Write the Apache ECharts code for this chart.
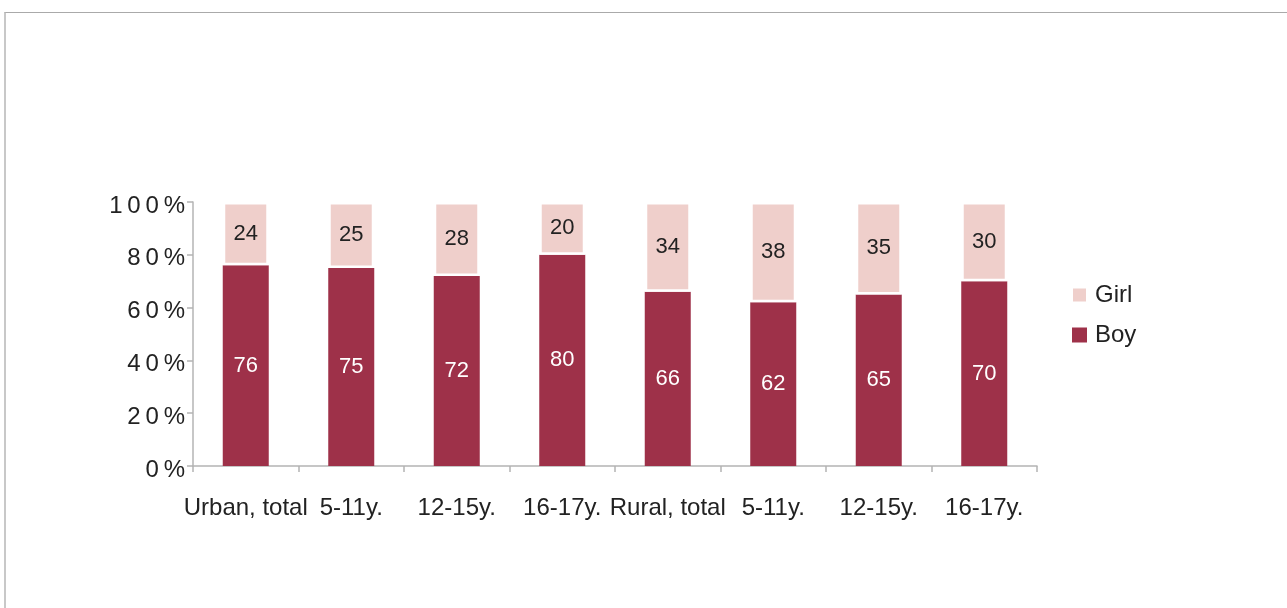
<!DOCTYPE html>
<html>
<head>
<meta charset="utf-8">
<script src="https://cdn.jsdelivr.net/npm/echarts@6/dist/echarts.min.js"></script>
<style>
  html, body { margin: 0; padding: 0; background: #fff; }
  .frame {
    position: absolute; left: 4px; top: 12px; width: 1300px; height: 620px;
    border-top: 1px solid #aaa; border-left: 2px solid #c8c8c8;
  }
  #chart { position: absolute; left: 0; top: 0; width: 1287px; height: 608px; }
</style>
</head>
<body>
<div class="frame"></div>
<div id="chart"></div>
<script>
const categories = ['Urban, total', '5-11y.', '12-15y.', '16-17y.', 'Rural, total', '5-11y.', '12-15y.', '16-17y.']
const boyValues = [76, 75, 72, 80, 66, 62, 65, 70]
const girlValues = [24, 25, 28, 20, 34, 38, 35, 30]
const yTicks = [0, 20, 40, 60, 80, 100]

const chart = echarts.init(document.getElementById('chart'))
const font = '"Liberation Sans", Arial, sans-serif'

chart.setOption({
  animation: false,
  textStyle: { fontFamily: font },
  grid: { left: 193, right: 250, top: 202, bottom: 142 },
  legend: {
    orient: 'vertical',
    left: 1066,
    top: 278,
    itemWidth: 15,
    itemHeight: 15,
    itemGap: 16,
    icon: 'rect',
    textStyle: { fontSize: 24, color: '#222', fontFamily: font, padding: [0, 0, 0, 3] },
    data: ['Girl', 'Boy']
  },
  xAxis: {
    type: 'category',
    data: categories,
    axisLine: { lineStyle: { color: '#b4b4b4', width: 1.5 } },
    axisTick: { show: true, length: 6, lineStyle: { color: '#b4b4b4', width: 1.5 } },
    axisLabel: { color: '#222', fontSize: 24, margin: 30, interval: 0 }
  },
  yAxis: {
    type: 'value',
    min: yTicks[0],
    max: yTicks[yTicks.length - 1],
    interval: 20,
    splitLine: { show: false },
    axisLine: { show: true, lineStyle: { color: '#b4b4b4', width: 1.5 } },
    axisTick: { show: true, length: 6, lineStyle: { color: '#b4b4b4', width: 1.5 } },
    axisLabel: {
      color: '#222',
      fontSize: 24,
      margin: 8,
      verticalAlign: 'top',
      lineHeight: 8,
      formatter: v => (v + '%').split('').join('\u2009')
    }
  },
  series: [
    {
      name: 'Boy',
      type: 'bar',
      stack: 'total',
      barWidth: 46,
      data: boyValues,
      itemStyle: { color: '#9e3149' },
      label: { show: true, position: 'inside', color: '#fff', fontSize: 22 }
    },
    {
      name: 'Girl',
      type: 'bar',
      stack: 'total',
      barWidth: 46,
      data: girlValues,
      itemStyle: { color: '#efcfcb', borderColor: '#fff', borderWidth: 2.5 },
      label: { show: true, position: 'inside', color: '#222', fontSize: 22 }
    }
  ]
})
</script>
</body>
</html>
